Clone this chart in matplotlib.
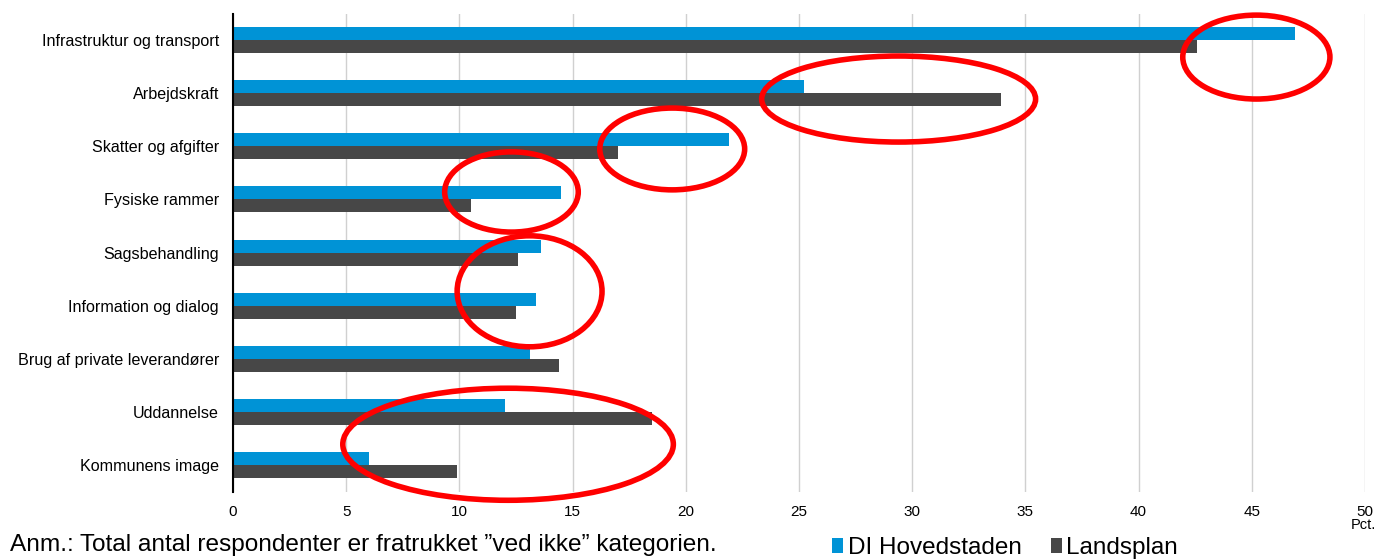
import numpy as np
import matplotlib.pyplot as plt
from matplotlib.patches import Ellipse

plt.rcParams['font.family'] = ['Liberation Sans', 'DejaVu Sans']

# Kategorier og værdier (pct.)
categories = ['Infrastruktur og transport', 'Arbejdskraft', 'Skatter og afgifter',
              'Fysiske rammer', 'Sagsbehandling', 'Information og dialog',
              'Brug af private leverandører', 'Uddannelse', 'Kommunens image']
di_hovedstaden = [46.9, 25.2, 21.9, 14.5, 13.6, 13.4, 13.1, 12.0, 6.0]
landsplan = [42.6, 33.9, 17.0, 10.5, 12.6, 12.5, 14.4, 18.5, 9.9]

# Røde markeringer: (x-centrum, y-centrum, bredde, højde)
circles = [(45.2, 0.32, 6.5, 1.58), (29.4, 1.11, 12.1, 1.62), (19.4, 2.05, 6.4, 1.54),
           (12.3, 2.86, 5.9, 1.51), (13.1, 4.73, 6.4, 2.09), (12.15, 7.61, 14.6, 2.11)]

fig = plt.figure(figsize=(13.77, 5.59), dpi=100)
ax = fig.add_axes([0.1692, 0.1207, 0.8221, 0.8551])

y = np.arange(len(categories))
h = 0.245
ax.barh(y - h / 2, di_hovedstaden, height=h, color='#0093D6', label='DI Hovedstaden', zorder=2)
ax.barh(y + h / 2, landsplan, height=h, color='#474747', label='Landsplan', zorder=2)

ax.set_ylim(len(categories) - 0.5, -0.5)
ax.set_xlim(0, 50)
ax.set_xticks(np.arange(0, 51, 5))
ax.set_yticks(y)
ax.set_yticklabels(categories, fontsize=11.6)
ax.tick_params(axis='x', labelsize=11, length=0, pad=10)
ax.tick_params(axis='y', length=0, pad=10)
ax.grid(axis='x', color='#D0D0D0', linewidth=1, zorder=0)
for s in ['top', 'right', 'bottom']:
    ax.spines[s].set_visible(False)
ax.spines['left'].set_color('black')
ax.spines['left'].set_linewidth(1.5)
ax.spines['left'].set_zorder(3)

for cx, cy, w, hh in circles:
    ax.add_patch(Ellipse((cx, cy), w, hh, fill=False, edgecolor='#FF0000',
                         linewidth=4, zorder=4, clip_on=False))

fig.text(1363 / 1377, 1 - 525 / 559, 'Pct.', fontsize=10.5, ha='center', va='center')
fig.text(10 / 1377, 1 - 545 / 559, 'Anm.: Total antal respondenter er fratrukket \u201dved ikke\u201d kategorien.',
         fontsize=17.6, ha='left', va='center')

fig.legend(loc='center', bbox_to_anchor=(1005 / 1377, 1 - 548 / 559), ncol=2, frameon=False,
           fontsize=17.5, handlelength=0.45, handleheight=0.6, handletextpad=0.2, columnspacing=1.2)

fig.savefig('out.png', dpi=100)
